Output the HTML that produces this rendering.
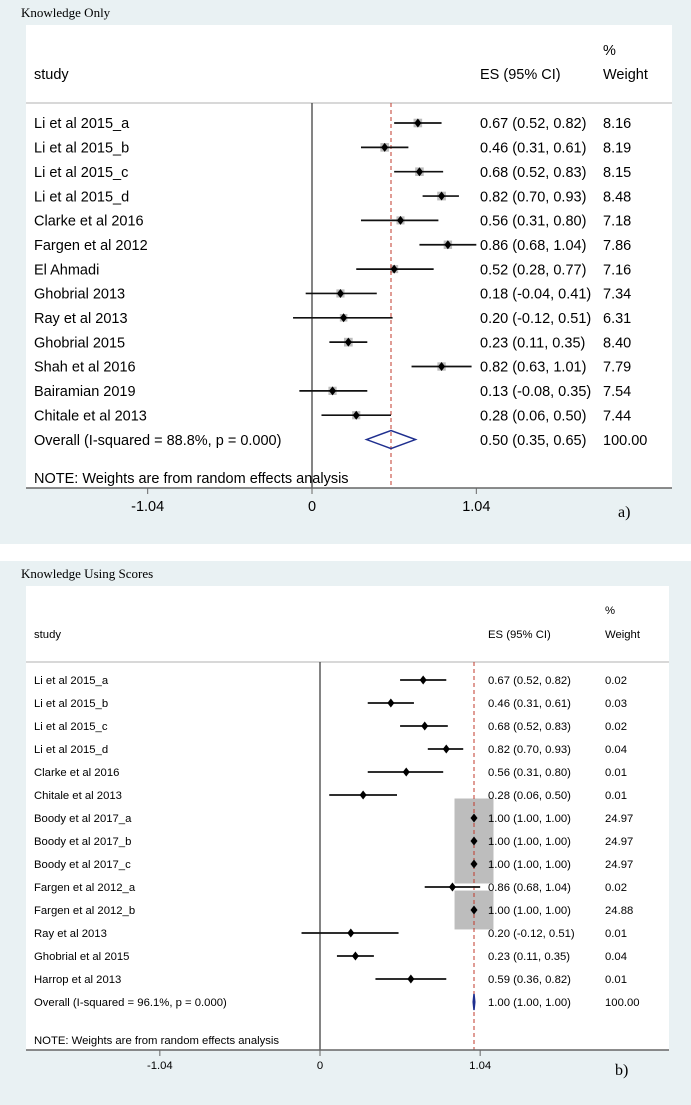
<!DOCTYPE html>
<html><head><meta charset="utf-8"><style>
html,body{margin:0;padding:0;background:#fff;}
svg{display:block;}
text{font-family:"Liberation Sans",sans-serif;}
.ttl{font-family:"Liberation Serif",serif;}
</style></head><body>
<svg id="fig" width="691" height="1105" viewBox="0 0 691 1105">
<rect x="0" y="0" width="691" height="544" fill="#e9f1f3"/>
<rect x="0" y="561" width="691" height="544" fill="#e9f1f3"/>
<rect x="26" y="25" width="646" height="463" fill="#fff"/>
<rect x="26" y="586" width="643" height="464" fill="#fff"/>
<text class="ttl" x="21" y="17" font-size="13">Knowledge Only</text>
<text class="ttl" x="21" y="578" font-size="13">Knowledge Using Scores</text>
<g id="ga"></g><g id="gb"></g>
</svg>
<script>
// Panel A data
const studiesA = ["Li et al 2015_a","Li et al 2015_b","Li et al 2015_c","Li et al 2015_d","Clarke et al 2016","Fargen et al 2012","El Ahmadi","Ghobrial 2013","Ray et al 2013","Ghobrial 2015","Shah et al 2016","Bairamian 2019","Chitale et al 2013"];
const esA = [0.67,0.46,0.68,0.82,0.56,0.86,0.52,0.18,0.20,0.23,0.82,0.13,0.28];
const loA = [0.52,0.31,0.52,0.70,0.31,0.68,0.28,-0.04,-0.12,0.11,0.63,-0.08,0.06];
const hiA = [0.82,0.61,0.83,0.93,0.80,1.04,0.77,0.41,0.51,0.35,1.01,0.35,0.50];
const wA = [8.16,8.19,8.15,8.48,7.18,7.86,7.16,7.34,6.31,8.40,7.79,7.54,7.44];
const overallA = {es:0.50, lo:0.35, hi:0.65, label:"Overall  (I-squared = 88.8%, p = 0.000)"};
// Panel B data
const studiesB = ["Li et al 2015_a","Li et al 2015_b","Li et al 2015_c","Li et al 2015_d","Clarke et al 2016","Chitale et al 2013","Boody et al 2017_a","Boody et al 2017_b","Boody et al 2017_c","Fargen et al 2012_a","Fargen et al 2012_b","Ray et al 2013","Ghobrial et al 2015","Harrop et al 2013"];
const esB = [0.67,0.46,0.68,0.82,0.56,0.28,1.00,1.00,1.00,0.86,1.00,0.20,0.23,0.59];
const loB = [0.52,0.31,0.52,0.70,0.31,0.06,1.00,1.00,1.00,0.68,1.00,-0.12,0.11,0.36];
const hiB = [0.82,0.61,0.83,0.93,0.80,0.50,1.00,1.00,1.00,1.04,1.00,0.51,0.35,0.82];
const wB = [0.02,0.03,0.02,0.04,0.01,0.01,24.97,24.97,24.97,0.02,24.88,0.01,0.04,0.01];
const overallB = {es:1.00, lo:1.00, hi:1.00, label:"Overall  (I-squared = 96.1%, p = 0.000)"};
const ticks = [-1.04, 0, 1.04];
const tickLabels = ["-1.04","0","1.04"];

const NS="http://www.w3.org/2000/svg";
function mk(p,tag,at){const e=document.createElementNS(NS,tag);for(const k in at)e.setAttribute(k,at[k]);p.appendChild(e);return e;}
function f2(v){return v.toFixed(2);}
function ci(e,l,h){return f2(e)+" ("+f2(l)+", "+f2(h)+")";}

function panel(g,cfg){
  const x=v=>cfg.x0+v*cfg.ppu;
  const y=i=>cfg.row0+i*cfg.step;
  const fs=cfg.fs;
  let t;
  t=mk(g,'text',{x:cfg.wX,y:cfg.hdrY-24,'font-size':fs});t.textContent="%";
  
  t=mk(g,'text',{x:34,y:cfg.hdrY,'font-size':fs});t.textContent="study";
  
  t=mk(g,'text',{x:cfg.esX,y:cfg.hdrY,'font-size':fs});t.textContent="ES (95% CI)";
  
  t=mk(g,'text',{x:cfg.wX,y:cfg.hdrY,'font-size':fs});t.textContent="Weight";
  
  let l=mk(g,'line',{x1:26,x2:cfg.right,y1:cfg.sepY,y2:cfg.sepY,stroke:'#ccc','stroke-width':1.5});
  
  l=mk(g,'line',{x1:x(0),x2:x(0),y1:cfg.sepY,y2:cfg.axisY,stroke:'#333','stroke-width':1.2});
  
  cfg.st.forEach((s,i)=>{
    const side=cfg.boxK*Math.sqrt(cfg.w[i]);
    const b=mk(g,'rect',{x:x(cfg.es[i])-side/2,y:y(i)-side/2,width:side,height:side,fill:'#bdbdbd'});
    
  });
  l=mk(g,'line',{x1:x(cfg.ov.es),x2:x(cfg.ov.es),y1:cfg.sepY,y2:cfg.axisY,stroke:'#c0392b','stroke-width':1,'stroke-dasharray':'4,3'});
  
  cfg.st.forEach((s,i)=>{
    const yy=y(i);
    const ln=mk(g,'line',{x1:x(cfg.lo[i]),x2:x(cfg.hi[i]),y1:yy,y2:yy,stroke:'#111','stroke-width':1.7});
    
    const cx=x(cfg.es[i]);
    const d=mk(g,'polygon',{points:`${cx},${yy-4.5} ${cx+3.5},${yy} ${cx},${yy+4.5} ${cx-3.5},${yy}`,fill:'#000'});
    
    let t1=mk(g,'text',{x:34,y:yy+fs*0.36,'font-size':fs});t1.textContent=s;
    
    let t2=mk(g,'text',{x:cfg.esX,y:yy+fs*0.36,'font-size':fs});t2.textContent=ci(cfg.es[i],cfg.lo[i],cfg.hi[i]);
    
    let t3=mk(g,'text',{x:cfg.wX,y:yy+fs*0.36,'font-size':fs});t3.textContent=f2(cfg.w[i]);
    
  });
  const oi=cfg.st.length, oy=y(oi), o=cfg.ov;
  const dh=cfg.diamH;
  let dm=mk(g,'polygon',{points:`${x(o.lo)-0.8},${oy} ${x(o.es)},${oy-dh} ${x(o.hi)+0.8},${oy} ${x(o.es)},${oy+dh}`,fill:'none',stroke:'#1f2f8f','stroke-width':1.5});
  
  t=mk(g,'text',{x:34,y:oy+fs*0.36,'font-size':fs});t.textContent=o.label;
  
  t=mk(g,'text',{x:cfg.esX,y:oy+fs*0.36,'font-size':fs});t.textContent=ci(o.es,o.lo,o.hi);
  
  t=mk(g,'text',{x:cfg.wX,y:oy+fs*0.36,'font-size':fs});t.textContent="100.00";
  
  t=mk(g,'text',{x:34,y:cfg.noteY,'font-size':fs});t.textContent="NOTE: Weights are from random effects analysis";
  
  l=mk(g,'line',{x1:26,x2:cfg.right,y1:cfg.axisY,y2:cfg.axisY,stroke:'#666','stroke-width':1.5});
  
  ticks.forEach((v,i)=>{
    const tk=mk(g,'line',{x1:x(v),x2:x(v),y1:cfg.axisY,y2:cfg.axisY+6,stroke:'#666','stroke-width':1});
    
    const tl=mk(g,'text',{x:x(v),y:cfg.axisY+cfg.tickDy,'font-size':fs,'text-anchor':'middle'});tl.textContent=tickLabels[i];
    
  });
  t=mk(g,'text',{x:cfg.right-54,y:cfg.axisY+cfg.tickDy+6,'font-size':16,class:'ttl'});t.textContent=cfg.tag;
  
}
panel(document.getElementById('ga'),{x0:312,ppu:158,row0:123,step:24.35,fs:14.5,esX:480,wX:603,hdrY:79,sepY:103,axisY:488,tickDy:23,right:672,noteY:483,boxK:3.0,diamH:9,
  st:studiesA,es:esA,lo:loA,hi:hiA,w:wA,ov:overallA,tag:"a)"});
panel(document.getElementById('gb'),{x0:320,ppu:154,row0:680,step:23,fs:11.3,esX:488,wX:605,hdrY:638,sepY:662,axisY:1050,tickDy:19,right:669,noteY:1044,boxK:7.8,diamH:8,
  st:studiesB,es:esB,lo:loB,hi:hiB,w:wB,ov:overallB,tag:"b)"});
</script>
</body></html>
